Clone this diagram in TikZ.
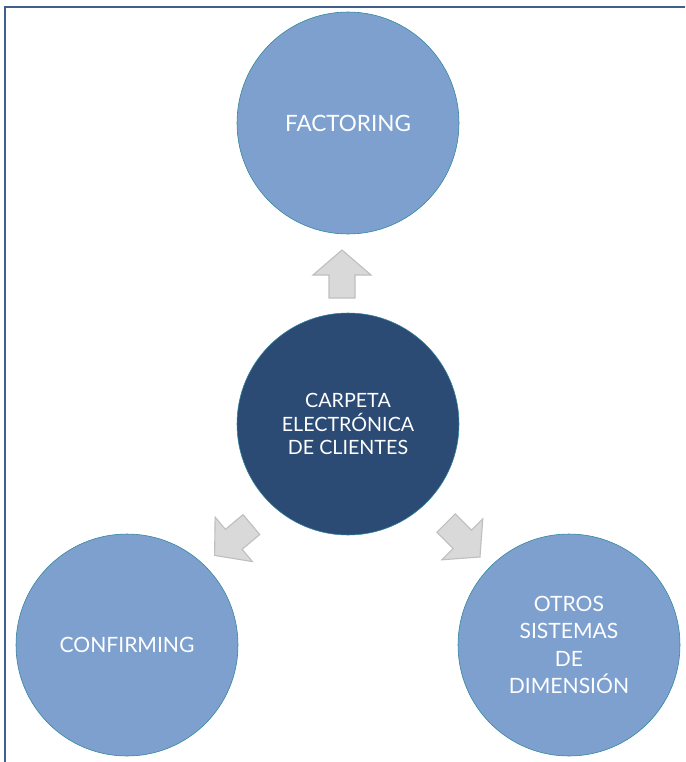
\documentclass[tikz,border=0pt]{standalone}
\usepackage{fontspec}
\setmainfont{Lato}
\usetikzlibrary{calc}
\definecolor{lightblue}{RGB}{125,160,207}
\definecolor{darkblue}{RGB}{43,74,116}
\definecolor{rim}{RGB}{49,133,156}
\definecolor{framecol}{RGB}{65,95,140}
\definecolor{arrowfill}{RGB}{217,217,217}
\definecolor{arrowrim}{RGB}{191,191,191}
\tikzset{
    bubble/.style={circle,draw=rim,fill=lightblue,minimum size=222*0.025cm,inner sep=0pt,
      text=white,align=center,font=\fontsize{15}{19.5}\selectfont},
    hub/.style={bubble,fill=darkblue,font=\fontsize{14}{17}\selectfont},
    fatarrow/.style={draw=arrowrim,fill=arrowfill,line width=0.8pt,line join=miter},
  }
\begin{document}
\begin{tikzpicture}[x=0.025cm,y=-0.025cm]
                                    %frame
                                    \useasboundingbox (0,0) rectangle (685,762);
                                    \draw[framecol,line width=1.3pt] (685,7) -- (5,7) -- (5,762);
                                    %circles
                                    \node[bubble,font=\fontsize{16}{19.5}\selectfont] (factoring) at (348,123) {FACTORING};
                                    \node[hub] (carpeta) at (348,424) {CARPETA\\ELECTRÓNICA\\DE CLIENTES};
                                    \node[bubble] (confirming) at (127,645) {CONFIRMING};
                                    \node[bubble] (otros) at (569,645) {OTROS\\SISTEMAS\\DE\\DIMENSIÓN};
                                    %arrows
                                    \foreach \pos/\ang in {{(342,274)}/90,{(233,540)}/220,{(463,540)}/315}
                                      \draw[fatarrow,shift={\pos},rotate=\ang]
                                        (24,0) -- (-1,29) -- (-1,13) -- (-24,13) -- (-24,-13) -- (-1,-13) -- (-1,-29) -- cycle;
\end{tikzpicture}
\end{document}
